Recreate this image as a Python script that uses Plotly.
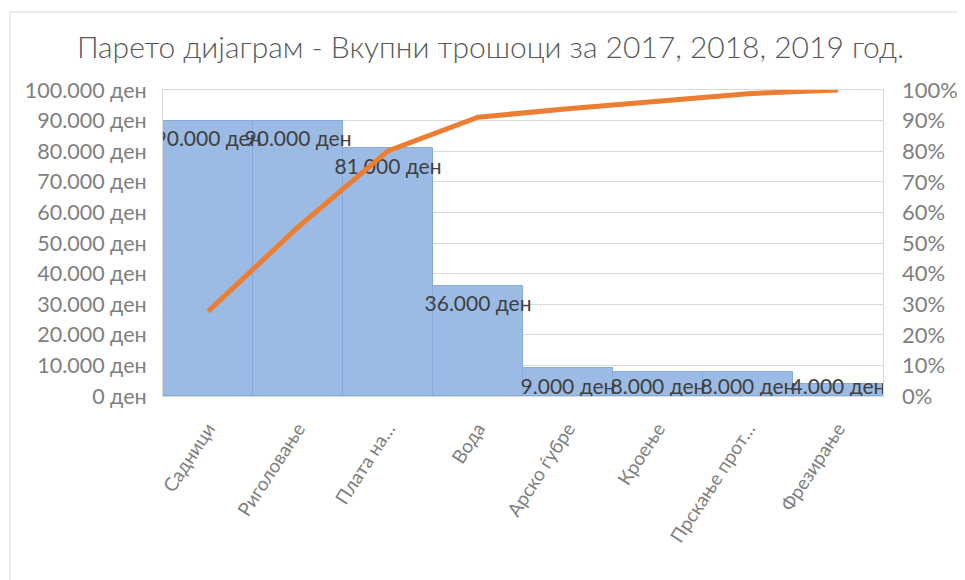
import plotly.graph_objects as go

categories = ["Садници", "Риголовање", "Плата на…", "Вода", "Арско ѓубре",
              "Кроење", "Прскање прот…", "Фрезирање"]
costs = [90000, 90000, 81000, 36000, 9000, 8000, 8000, 4000]
cumulative_pct = [0.276, 0.552, 0.801, 0.911, 0.939, 0.963, 0.988, 1.0]
cost_labels = ["90.000 ден", "90.000 ден", "81.000 ден", "36.000 ден",
               "9.000 ден", "8.000 ден", "8.000 ден", "4.000 ден"]
left_tick_vals = [0, 10000, 20000, 30000, 40000, 50000, 60000, 70000, 80000, 90000, 100000]
left_tick_text = ["0 ден", "10.000 ден", "20.000 ден", "30.000 ден", "40.000 ден",
                  "50.000 ден", "60.000 ден", "70.000 ден", "80.000 ден", "90.000 ден",
                  "100.000 ден"]
right_tick_vals = [0, 0.1, 0.2, 0.3, 0.4, 0.5, 0.6, 0.7, 0.8, 0.9, 1.0]
right_tick_text = ["0%", "10%", "20%", "30%", "40%", "50%", "60%", "70%", "80%", "90%", "100%"]

FONT = "Lato, 'Open Sans', sans-serif"
GREY = "#7f7f7f"

# labels sit inside the top of each bar, but never lower than the plot floor allows
label_floor = 9000
label_y = [max(v, label_floor) for v in costs]

fig = go.Figure()
fig.add_trace(go.Bar(
    x=categories, y=costs,
    marker=dict(color="#9bbbe4", line=dict(color="#84abdc", width=1)),
    width=1.0, showlegend=False, hoverinfo="skip",
))
fig.add_trace(go.Scatter(
    x=categories, y=label_y, mode="markers+text", text=cost_labels,
    textposition="bottom center",
    marker=dict(size=14, opacity=0),
    textfont=dict(family=FONT, size=21, color="#404040"),
    cliponaxis=True, showlegend=False, hoverinfo="skip",
))
fig.add_trace(go.Scatter(
    x=categories, y=cumulative_pct, yaxis="y2", mode="lines",
    line=dict(color="#ed7d31", width=5),
    showlegend=False, hoverinfo="skip",
))

fig.update_layout(
    width=965, height=580,
    margin=dict(l=155, r=90, t=82, b=192),
    paper_bgcolor="white", plot_bgcolor="white",
    bargap=0,
    title=dict(text="Парето дијаграм - Вкупни трошоци за 2017, 2018, 2019 год.",
               x=0.5, xanchor="center", y=0.932, yanchor="middle",
               font=dict(family=FONT, size=30, color="#595959", weight=300)),
    xaxis=dict(type="category", tickangle=-57,
               tickfont=dict(family=FONT, size=19, color=GREY),
               showline=True, linecolor="#d9d9d9", mirror=True,
               showgrid=False, ticks="", ticklabelstandoff=13),
    yaxis=dict(range=[0, 100000], tickvals=left_tick_vals, ticktext=left_tick_text,
               tickfont=dict(family=FONT, size=21.5, color=GREY),
               showgrid=True, gridcolor="#d9d9d9", gridwidth=1,
               showline=True, linecolor="#d9d9d9", mirror=True,
               zeroline=False, ticks="", ticklabelstandoff=11),
    yaxis2=dict(range=[0, 1], overlaying="y", side="right",
                tickvals=right_tick_vals, ticktext=right_tick_text,
                tickfont=dict(family=FONT, size=22, color=GREY),
                showgrid=False, zeroline=False, ticks="", ticklabelstandoff=18),
    shapes=[dict(type="rect", xref="paper", yref="paper",
                 x0=-0.2125, x1=1.13, y0=-0.62, y1=1.2549,
                 line=dict(color="#d9d9d9", width=1), fillcolor="rgba(0,0,0,0)",
                 layer="below")],
)

fig.write_html("out.html")
